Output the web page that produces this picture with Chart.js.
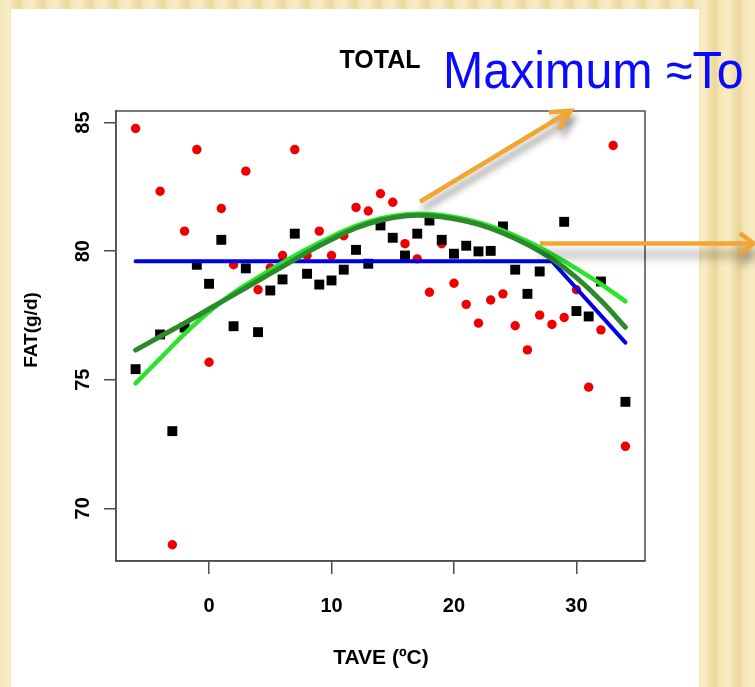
<!DOCTYPE html>
<html>
<head>
<meta charset="utf-8">
<script src="https://cdn.jsdelivr.net/npm/chart.js@4.4.1/dist/chart.umd.min.js"></script>
<style>
  html, body { margin: 0; padding: 0; width: 755px; height: 687px; overflow: hidden; }
  body {
    position: relative;
    background: repeating-linear-gradient(90deg, #f6e7b8 0px, #f9edc6 8px, #f1dfa9 15px, #ead699 19px, #f6e7b8 24px);
  }
  #panel { position: absolute; left: 11px; top: 9px; width: 688px; height: 678px; background: #ffffff; }
  #wrap { position: absolute; left: 0; top: 0; width: 755px; height: 687px; }
</style>
</head>
<body>
<div id="panel"></div>
<div id="wrap"><canvas id="c" width="755" height="687"></canvas></div>
<script>
// Observed daily fat yield against average temperature
const tempRed = [-6,-4,-3,-2,-1,0,1,2,3,4,5,6,7,8,9,10,11,12,13,14,15,16,17,18,19,20,21,22,23,24,25,26,27,28,29,30,31,32,33,34];
const fatRed  = [84.77,82.33,68.58,80.78,83.95,75.68,81.66,79.47,83.11,78.50,79.35,79.83,83.95,79.83,80.78,79.83,80.60,81.70,81.56,82.23,81.90,80.29,79.70,78.40,80.29,78.75,77.93,77.20,78.10,78.34,77.10,76.16,77.51,77.15,77.42,78.50,74.71,76.94,84.11,72.41];

const tempBlack = [-6,-4,-3,-2,-1,0,1,2,3,4,5,6,7,8,9,10,11,12,13,14,15,16,17,18,19,20,21,22,23,24,25,26,27,29,30,31,32,34];
const fatBlack  = [75.41,76.76,73.00,77.03,79.47,78.73,80.44,77.08,79.33,76.85,78.47,78.90,80.68,79.12,78.70,78.86,79.28,80.05,79.51,81.00,80.52,79.83,80.68,81.19,80.44,79.90,80.21,79.99,80.01,80.96,79.28,78.34,79.21,81.14,77.67,77.46,78.82,74.14];

// Fitted curves
const curveTemps = [-6,-4,-2,0,2,4,6,8,10,12,14,16,18,20,22,24,26,28,30,32,34];
const fitDark  = [76.15,76.68,77.20,77.75,78.30,78.85,79.40,79.95,80.45,80.90,81.20,81.37,81.38,81.26,81.04,80.70,80.26,79.70,78.97,78.08,77.04];
const fitLight = [74.86,75.82,76.78,77.64,78.38,78.98,79.55,80.08,80.56,80.98,81.27,81.43,81.44,81.33,81.12,80.80,80.38,79.88,79.32,78.72,78.05];
const plateauTemps = [-6, 28, 34];
const plateauFat   = [79.61, 79.61, 76.44];

// Axis ticks and texts
const xTicks = [0, 10, 20, 30];
const yTicks = [70, 75, 80, 85];
const xTitle = 'TAVE (ºC)';
const yTitle = 'FAT(g/d)';
const mainTitle = 'TOTAL';
const note = 'Maximum ≈To';

// Arrow annotations, in data units
const arrowUp = { from: [17.23, 81.92], to: [29.53, 85.46] };
const arrowRight = { from: [27.02, 80.30], to: [44.45, 80.30] };

const pts = (xs, ys) => xs.map((x, i) => ({ x: x, y: ys[i] }));
const FONT = '"Liberation Sans", Arial, Helvetica, sans-serif';

function drawArrow(ctx, x0, y0, x1, y1, armLen, armAng, shadow) {
  const ang = Math.atan2(y1 - y0, x1 - x0);
  ctx.save();
  ctx.strokeStyle = '#f2a533';
  ctx.lineWidth = 4.5;
  ctx.lineCap = 'butt';
  ctx.lineJoin = 'miter';
  ctx.shadowColor = 'rgba(0,0,0,0.42)';
  ctx.shadowBlur = shadow.blur;
  ctx.shadowOffsetX = shadow.dx;
  ctx.shadowOffsetY = shadow.dy;
  ctx.beginPath();
  ctx.moveTo(x0, y0);
  ctx.lineTo(x1, y1);
  ctx.moveTo(x1 - armLen * Math.cos(ang - armAng), y1 - armLen * Math.sin(ang - armAng));
  ctx.lineTo(x1, y1);
  ctx.lineTo(x1 - armLen * Math.cos(ang + armAng), y1 - armLen * Math.sin(ang + armAng));
  ctx.stroke();
  ctx.restore();
}

const decor = {
  id: 'decor',
  afterDraw(chart) {
    const ctx = chart.ctx;
    const a = chart.chartArea;
    const xs = chart.scales.x, ys = chart.scales.y;

    // plot frame
    ctx.save();
    ctx.strokeStyle = '#4d4d4d';
    ctx.lineWidth = 1.5;
    ctx.strokeRect(a.left, a.top, a.right - a.left, a.bottom - a.top);
    ctx.restore();

    ctx.save();
    ctx.fillStyle = '#000';
    // y tick labels, rotated like the axis
    ctx.font = 'bold 20px ' + FONT;
    ctx.textAlign = 'center';
    ctx.textBaseline = 'middle';
    ys.ticks.forEach(t => {
      ctx.save();
      ctx.translate(82, ys.getPixelForValue(t.value));
      ctx.rotate(-Math.PI / 2);
      ctx.fillText(String(t.value), 0, 1);
      ctx.restore();
    });
    // axis titles
    ctx.font = 'bold 19px ' + FONT;
    ctx.save();
    ctx.translate(32, 330);
    ctx.rotate(-Math.PI / 2);
    ctx.fillText(yTitle, 0, 0);
    ctx.restore();
    ctx.font = 'bold 21px ' + FONT;
    ctx.fillText(xTitle, 381, 658);
    // heading
    ctx.font = 'bold 25px ' + FONT;
    ctx.textBaseline = 'alphabetic';
    ctx.fillText(mainTitle, 380, 68);
    ctx.textAlign = 'left';
    ctx.fillStyle = '#0a0aff';
    ctx.font = '52px ' + FONT;
    ctx.save();
    ctx.translate(443, 88);
    ctx.scale(0.93, 1);
    ctx.fillText(note, 0, 0);
    ctx.restore();
    ctx.restore();

    // arrows
    const p = v => [xs.getPixelForValue(v[0]), ys.getPixelForValue(v[1])];
    let f = p(arrowUp.from), t = p(arrowUp.to);
    drawArrow(ctx, f[0], f[1], t[0], t[1], 22, 0.47, { blur: 7, dx: 3, dy: 7 });
    f = p(arrowRight.from); t = p(arrowRight.to);
    drawArrow(ctx, f[0], f[1], t[0], t[1], 17, 0.65, { blur: 10, dx: 0, dy: 11 });
  }
};

new Chart(document.getElementById('c'), {
  type: 'scatter',
  data: {
    datasets: [
      { label: 'fit dark', data: pts(curveTemps, fitDark), showLine: true, borderColor: '#2b8a2b',
        borderWidth: 5, pointRadius: 0, tension: 0.4, borderCapStyle: 'round', order: 0 },
      { label: 'fit light', data: pts(curveTemps, fitLight), showLine: true, borderColor: '#27e627',
        borderWidth: 4.5, pointRadius: 0, tension: 0.4, borderCapStyle: 'round', order: 1 },
      { label: 'plateau', data: pts(plateauTemps, plateauFat), showLine: true, borderColor: '#0000e6',
        borderWidth: 4, pointRadius: 0, tension: 0, borderCapStyle: 'round', order: 2 },
      { label: 'black', data: pts(tempBlack, fatBlack), pointStyle: 'rect', pointRadius: 7,
        backgroundColor: '#000', borderWidth: 0, order: 3 },
      { label: 'red', data: pts(tempRed, fatRed), pointStyle: 'circle', pointRadius: 4.7,
        backgroundColor: '#ee0000', borderWidth: 0, order: 4 }
    ]
  },
  options: {
    responsive: false,
    animation: false,
    devicePixelRatio: 1,
    layout: { padding: { left: 0, top: 111, right: 110, bottom: 0 } },
    plugins: { legend: { display: false }, tooltip: { enabled: false } },
    scales: {
      x: {
        type: 'linear', position: 'bottom', min: -7.6, max: 35.6,
        afterBuildTicks: s => { s.ticks = xTicks.map(v => ({ value: v })); },
        afterFit: s => { s.height = 126; },
        grid: { drawOnChartArea: false, drawTicks: true, tickLength: 13, color: '#4d4d4d', lineWidth: 1.5 },
        border: { display: true, color: '#4d4d4d', width: 1.5 },
        ticks: { color: '#000', padding: 20, font: { family: FONT, size: 20, weight: 'bold' } }
      },
      y: {
        type: 'linear', position: 'left', min: 67.95, max: 85.45,
        afterBuildTicks: s => { s.ticks = yTicks.map(v => ({ value: v })); },
        afterFit: s => { s.width = 116; },
        grid: { drawOnChartArea: false, drawTicks: true, tickLength: 12, color: '#4d4d4d', lineWidth: 1.5 },
        border: { display: true, color: '#4d4d4d', width: 1.5 },
        ticks: { display: false }
      }
    }
  },
  plugins: [decor]
});
</script>
</body>
</html>
